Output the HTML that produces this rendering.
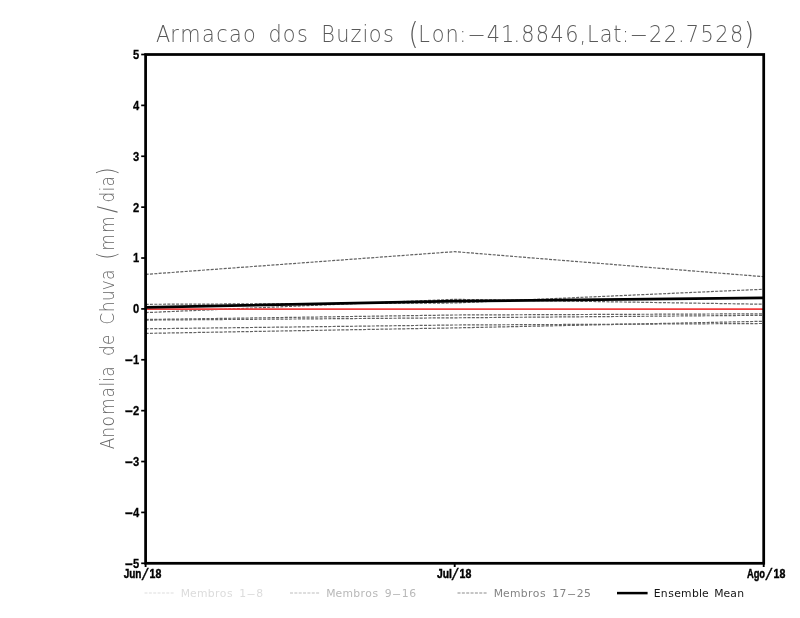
<!DOCTYPE html>
<html lang="pt"><head><meta charset="utf-8"><title>Armacao dos Buzios</title>
<style>html,body{margin:0;padding:0;background:#fff}body{width:800px;height:618px;overflow:hidden}svg{display:block;will-change:transform}text{filter:grayscale(1)}.tk{font-family:"Liberation Sans",sans-serif;font-weight:bold;font-size:12px;fill:#000}.lg{font-family:"DejaVu Sans","Liberation Sans",sans-serif;font-weight:normal}.th{font-family:"DejaVu Sans Light","DejaVu Sans","Liberation Sans",sans-serif;font-weight:200}</style></head><body>
<svg width="800" height="618" viewBox="0 0 800 618">
<rect width="800" height="618" fill="#fff"/>
<text class="th" transform="translate(156.50 41.80) scale(0.8800 1)" x="7.52 20.47 38.43 58.90 74.36 89.81 105.68 120.31 134.93 150.80 165.84 179.62 195.08 211.79 226.83 237.27 248.55 263.59 277.37 292.18 303.99 320.16 336.04 348.15 363.76 382.97 399.11 409.37 421.90 438.61 455.32 472.03 484.56 495.84 510.88 523.83 533.02 548.06 567.27 583.98 596.51 609.05 625.76 642.46 659.17 673.38" y="0.00 0.00 0.00 0.00 0.00 0.00 0.00 0.00 0.00 0.00 0.00 0.00 0.00 0.00 0.00 0.00 0.00 0.00 0.00 1.90 0.00 0.00 0.00 0.00 0.00 0.00 0.00 0.00 0.00 0.00 0.00 0.00 0.00 0.00 0.00 0.00 0.00 0.00 0.00 0.00 0.00 0.00 0.00 0.00 0.00 1.90" font-size="23.70" fill="#595959" text-anchor="middle">Armacao dos Buzios <tspan font-size="29.62">(</tspan>Lon:<tspan textLength="21.72" lengthAdjust="spacingAndGlyphs">-</tspan>41.8846,Lat:<tspan textLength="21.72" lengthAdjust="spacingAndGlyphs">-</tspan>22.7528<tspan font-size="29.62">)</tspan></text>
<text class="th" transform="translate(113.70 448.80) rotate(-90) scale(0.8800 1)" x="6.06 18.52 31.31 47.81 64.31 73.40 78.79 87.88 99.66 111.45 123.91 135.36 147.81 161.28 174.08 185.86 197.65 209.43 219.53 234.35 254.55 272.06 285.86 294.95 304.04 315.16" y="0.00 0.00 0.00 0.00 0.00 0.00 0.00 0.00 0.00 0.00 0.00 0.00 0.00 0.00 0.00 0.00 0.00 0.00 1.54 0.00 0.00 1.54 0.00 0.00 0.00 1.54" font-size="19.20" fill="#666" text-anchor="middle">Anomalia de Chuva <tspan font-size="24.00">(</tspan>mm<tspan font-size="24.00">/</tspan>dia<tspan font-size="24.00">)</tspan></text>
<polyline fill="none" stroke="#626262" stroke-width="1.2" stroke-dasharray="3.05 1.3" points="145.60,274.40 454.70,251.65 763.70,276.70"/>
<polyline fill="none" stroke="#626262" stroke-width="1.2" stroke-dasharray="3.05 1.3" points="145.60,304.30 454.70,303.00 763.70,289.25"/>
<polyline fill="none" stroke="#626262" stroke-width="1.2" stroke-dasharray="3.05 1.3" points="145.60,312.60 454.70,299.30 763.70,304.25"/>
<polyline fill="none" stroke="#626262" stroke-width="1.2" stroke-dasharray="3.05 1.3" points="145.60,319.50 454.70,315.00 763.70,313.80"/>
<polyline fill="none" stroke="#626262" stroke-width="1.2" stroke-dasharray="3.05 1.3" points="145.60,320.10 454.70,317.80 763.70,315.30"/>
<polyline fill="none" stroke="#626262" stroke-width="1.2" stroke-dasharray="3.05 1.3" points="145.60,328.80 454.70,325.00 763.70,323.50"/>
<polyline fill="none" stroke="#626262" stroke-width="1.2" stroke-dasharray="3.05 1.3" points="145.60,333.40 454.70,327.90 763.70,321.25"/>
<line x1="145.60" y1="309.1" x2="763.70" y2="309.1" stroke="#f03c3c" stroke-width="1.6"/>
<polyline fill="none" stroke="#000" stroke-width="2.7" stroke-linejoin="round" points="145.60,307.35 454.70,301.20 763.70,297.90"/>
<rect x="145.60" y="54.50" width="618.10" height="508.80" fill="none" stroke="#000" stroke-width="2.75"/>
<line x1="141.2" y1="563.30" x2="145.60" y2="563.30" stroke="#000" stroke-width="1.7"/>
<text class="tk" transform="translate(139.3 567.70) scale(0.86 1)" x="0" y="0" text-anchor="end" style="font-size:13px;stroke:#000;stroke-width:0.3px"><tspan textLength="9.8" lengthAdjust="spacingAndGlyphs">-</tspan>5</text>
<line x1="141.2" y1="512.42" x2="145.60" y2="512.42" stroke="#000" stroke-width="1.7"/>
<text class="tk" transform="translate(139.3 516.82) scale(0.86 1)" x="0" y="0" text-anchor="end" style="font-size:13px;stroke:#000;stroke-width:0.3px"><tspan textLength="9.8" lengthAdjust="spacingAndGlyphs">-</tspan>4</text>
<line x1="141.2" y1="461.54" x2="145.60" y2="461.54" stroke="#000" stroke-width="1.7"/>
<text class="tk" transform="translate(139.3 465.94) scale(0.86 1)" x="0" y="0" text-anchor="end" style="font-size:13px;stroke:#000;stroke-width:0.3px"><tspan textLength="9.8" lengthAdjust="spacingAndGlyphs">-</tspan>3</text>
<line x1="141.2" y1="410.66" x2="145.60" y2="410.66" stroke="#000" stroke-width="1.7"/>
<text class="tk" transform="translate(139.3 415.06) scale(0.86 1)" x="0" y="0" text-anchor="end" style="font-size:13px;stroke:#000;stroke-width:0.3px"><tspan textLength="9.8" lengthAdjust="spacingAndGlyphs">-</tspan>2</text>
<line x1="141.2" y1="359.78" x2="145.60" y2="359.78" stroke="#000" stroke-width="1.7"/>
<text class="tk" transform="translate(139.3 364.18) scale(0.86 1)" x="0" y="0" text-anchor="end" style="font-size:13px;stroke:#000;stroke-width:0.3px"><tspan textLength="9.8" lengthAdjust="spacingAndGlyphs">-</tspan>1</text>
<line x1="141.2" y1="308.90" x2="145.60" y2="308.90" stroke="#000" stroke-width="1.7"/>
<text class="tk" transform="translate(139.3 313.30) scale(0.86 1)" x="0" y="0" text-anchor="end" style="font-size:13px;stroke:#000;stroke-width:0.3px">0</text>
<line x1="141.2" y1="258.02" x2="145.60" y2="258.02" stroke="#000" stroke-width="1.7"/>
<text class="tk" transform="translate(139.3 262.42) scale(0.86 1)" x="0" y="0" text-anchor="end" style="font-size:13px;stroke:#000;stroke-width:0.3px">1</text>
<line x1="141.2" y1="207.14" x2="145.60" y2="207.14" stroke="#000" stroke-width="1.7"/>
<text class="tk" transform="translate(139.3 211.54) scale(0.86 1)" x="0" y="0" text-anchor="end" style="font-size:13px;stroke:#000;stroke-width:0.3px">2</text>
<line x1="141.2" y1="156.26" x2="145.60" y2="156.26" stroke="#000" stroke-width="1.7"/>
<text class="tk" transform="translate(139.3 160.66) scale(0.86 1)" x="0" y="0" text-anchor="end" style="font-size:13px;stroke:#000;stroke-width:0.3px">3</text>
<line x1="141.2" y1="105.38" x2="145.60" y2="105.38" stroke="#000" stroke-width="1.7"/>
<text class="tk" transform="translate(139.3 109.78) scale(0.86 1)" x="0" y="0" text-anchor="end" style="font-size:13px;stroke:#000;stroke-width:0.3px">4</text>
<line x1="141.2" y1="54.50" x2="145.60" y2="54.50" stroke="#000" stroke-width="1.7"/>
<text class="tk" transform="translate(139.3 58.90) scale(0.86 1)" x="0" y="0" text-anchor="end" style="font-size:13px;stroke:#000;stroke-width:0.3px">5</text>
<line x1="145.60" y1="563.30" x2="145.60" y2="567.0" stroke="#000" stroke-width="1.9"/>
<line x1="454.70" y1="563.30" x2="454.70" y2="567.0" stroke="#000" stroke-width="1.9"/>
<line x1="763.70" y1="563.30" x2="763.70" y2="567.0" stroke="#000" stroke-width="1.9"/>
<text class="tk" y="577.5" style="font-size:12.6px;stroke:#000;stroke-width:0.45px"><tspan x="123.70" textLength="17.80" lengthAdjust="spacingAndGlyphs">Jun</tspan><tspan x="142.50" y="580.1" style="font-size:17px;font-weight:normal;font-style:italic;stroke-width:0.3px">/</tspan><tspan x="149.50" y="577.5" textLength="11.80" lengthAdjust="spacingAndGlyphs">18</tspan></text>
<text class="tk" y="577.5" style="font-size:12.6px;stroke:#000;stroke-width:0.45px"><tspan x="437.00" textLength="15.00" lengthAdjust="spacingAndGlyphs">Jul</tspan><tspan x="452.50" y="580.1" style="font-size:17px;font-weight:normal;font-style:italic;stroke-width:0.3px">/</tspan><tspan x="459.50" y="577.5" textLength="11.80" lengthAdjust="spacingAndGlyphs">18</tspan></text>
<text class="tk" y="577.5" style="font-size:12.6px;stroke:#000;stroke-width:0.45px"><tspan x="746.90" textLength="18.20" lengthAdjust="spacingAndGlyphs">Ago</tspan><tspan x="766.30" y="580.1" style="font-size:17px;font-weight:normal;font-style:italic;stroke-width:0.3px">/</tspan><tspan x="773.50" y="577.5" textLength="11.80" lengthAdjust="spacingAndGlyphs">18</tspan></text>
<line x1="144.5" y1="593" x2="174.5" y2="593" stroke="#dedede" stroke-width="1.1" stroke-dasharray="3 1.35"/>
<text class="lg" transform="translate(181.02 597.10) scale(1.0000 1)" x="4.45 12.24 21.15 30.24 36.17 42.11 48.79 54.91 61.59 70.12 78.65" y="0.00 0.00 0.00 0.00 0.00 0.00 0.00 0.00 0.00 0.00 0.00" font-size="10.80" fill="#dcdcdc" text-anchor="middle">Membros 1<tspan textLength="9.65" lengthAdjust="spacingAndGlyphs">-</tspan>8</text>
<line x1="290.0" y1="593" x2="320.0" y2="593" stroke="#bdbdbd" stroke-width="1.1" stroke-dasharray="3 1.35"/>
<text class="lg" transform="translate(326.52 597.10) scale(1.0000 1)" x="4.45 12.24 21.15 30.24 36.17 42.11 48.79 54.91 61.59 70.12 78.65 86.07" y="0.00 0.00 0.00 0.00 0.00 0.00 0.00 0.00 0.00 0.00 0.00 0.00" font-size="10.80" fill="#b8b8b8" text-anchor="middle">Membros 9<tspan textLength="9.65" lengthAdjust="spacingAndGlyphs">-</tspan>16</text>
<line x1="457.5" y1="593" x2="487.0" y2="593" stroke="#8c8c8c" stroke-width="1.1" stroke-dasharray="3 1.35"/>
<text class="lg" transform="translate(494.02 597.10) scale(1.0000 1)" x="4.45 12.24 21.15 30.24 36.17 42.11 48.79 54.91 61.59 69.01 77.54 86.07 93.49" y="0.00 0.00 0.00 0.00 0.00 0.00 0.00 0.00 0.00 0.00 0.00 0.00 0.00" font-size="10.80" fill="#848484" text-anchor="middle">Membros 17<tspan textLength="9.65" lengthAdjust="spacingAndGlyphs">-</tspan>25</text>
<line x1="617" y1="593.1" x2="647.6" y2="593.1" stroke="#000" stroke-width="2.5"/>
<text class="lg" transform="translate(653.72 597.10) scale(1.0000 1)" x="3.52 10.57 17.25 23.74 32.65 41.74 46.75 51.57 57.88 65.30 73.09 79.95 87.00" y="0.00 0.00 0.00 0.00 0.00 0.00 0.00 0.00 0.00 0.00 0.00 0.00 0.00" font-size="10.80" fill="#151515" text-anchor="middle">Ensemble Mean</text>
</svg></body></html>
